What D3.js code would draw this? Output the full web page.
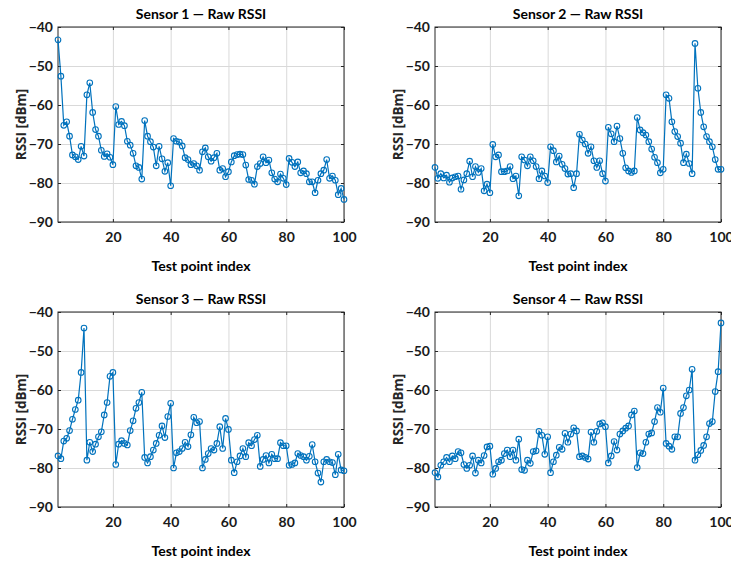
<!DOCTYPE html>
<html>
<head>
<meta charset="utf-8">
<script src="https://cdn.jsdelivr.net/npm/d3@7"></script>
<style>
  body { margin: 0; background: #fff; }
  svg { display: block; }
  .axis text { font-family: Lato, sans-serif; font-weight: 700; font-size: 14px; fill: #1a1a1a; }
  .axis line { stroke: #262626; }
  .axis .domain { display: none; }
  .grid line { stroke: #d9d9d9; }
  .grid .domain { display: none; }
  .title, .x-label { font-family: Lato, sans-serif; font-weight: 700; font-size: 14px; fill: #000; }
  .y-label { font-family: "Open Sans", sans-serif; font-weight: 700; font-size: 13.5px; fill: #262626; }
</style>
</head>
<body>
<svg id="chart"></svg>
<script>
// test point indices 1..100
const testPoints = d3.range(1, 101);

const sensor1 = [-43.3, -52.6, -65.2, -64.3, -68.0, -72.8, -73.3, -74.0, -70.6, -73.1,
  -57.4, -54.3, -61.9, -66.3, -68.0, -71.6, -73.2, -72.5, -73.4, -75.3,
  -60.4, -65.0, -64.2, -65.3, -69.3, -70.3, -72.4, -75.6, -76.0, -79.0,
  -64.0, -68.0, -69.4, -70.8, -75.6, -70.6, -73.8, -77.0, -74.8, -80.7,
  -68.6, -69.3, -69.5, -70.5, -73.5, -74.0, -75.3, -75.0, -75.6, -76.7,
  -72.0, -71.0, -73.3, -74.4, -73.5, -72.4, -76.7, -76.3, -78.4, -77.1,
  -74.6, -73.0, -72.7, -72.6, -72.7, -75.4, -79.1, -79.3, -80.3, -75.8,
  -75.0, -73.3, -74.8, -74.1, -77.4, -79.0, -79.7, -77.7, -78.8, -80.4,
  -73.7, -74.7, -75.8, -74.6, -77.4, -76.9, -77.6, -79.7, -79.7, -82.5,
  -79.3, -77.6, -76.7, -74.0, -78.8, -78.2, -79.3, -83.0, -81.4, -84.2];

const sensor2 = [-76.0, -78.8, -77.6, -78.7, -78.0, -79.8, -78.7, -78.4, -78.2, -81.6,
  -79.2, -77.6, -74.4, -78.4, -75.8, -77.3, -76.3, -82.0, -80.3, -82.5,
  -70.1, -73.3, -72.8, -77.1, -77.1, -76.9, -75.8, -78.9, -78.2, -83.3,
  -73.3, -74.1, -75.6, -73.3, -74.3, -75.8, -78.9, -76.9, -78.2, -79.9,
  -70.7, -71.7, -74.6, -73.1, -75.2, -76.3, -77.7, -77.6, -81.2, -77.6,
  -67.5, -69.0, -70.0, -72.4, -70.7, -74.3, -76.0, -74.3, -77.6, -79.5,
  -65.7, -67.4, -69.4, -65.4, -68.6, -72.4, -76.1, -76.9, -77.3, -76.9,
  -63.2, -66.4, -67.1, -67.7, -69.4, -71.3, -73.4, -74.8, -77.4, -76.5,
  -57.4, -58.3, -64.3, -66.8, -68.1, -69.8, -74.8, -72.6, -75.0, -77.6,
  -44.2, -55.7, -61.9, -65.6, -68.1, -69.4, -70.7, -74.0, -76.5, -76.5];

const sensor3 = [-76.9, -77.6, -73.1, -72.4, -70.4, -67.5, -65.0, -62.6, -55.5, -44.1,
  -78.0, -73.4, -75.8, -73.9, -72.0, -70.7, -66.4, -63.2, -56.5, -55.5,
  -79.1, -73.9, -73.0, -73.7, -74.1, -70.4, -67.9, -64.7, -63.2, -60.6,
  -77.3, -78.7, -77.1, -75.4, -73.7, -71.6, -69.2, -72.2, -66.8, -63.4,
  -80.0, -76.1, -75.8, -75.0, -73.4, -74.5, -71.5, -67.0, -68.4, -68.1,
  -80.0, -77.8, -76.3, -75.0, -75.4, -73.7, -69.4, -75.0, -67.3, -70.1,
  -78.0, -81.2, -78.4, -76.9, -75.0, -77.1, -73.5, -74.3, -72.7, -71.6,
  -79.6, -77.8, -76.8, -78.7, -76.5, -77.6, -77.6, -73.5, -74.3, -74.3,
  -79.3, -79.1, -78.7, -76.3, -76.8, -77.1, -78.0, -77.0, -74.0, -78.4,
  -81.3, -83.6, -78.4, -77.8, -78.4, -78.6, -81.7, -76.5, -80.5, -80.7];

const sensor4 = [-81.2, -82.3, -79.3, -78.4, -77.3, -78.4, -76.9, -77.6, -75.8, -76.1,
  -79.1, -80.1, -79.3, -76.9, -81.3, -78.0, -78.7, -76.8, -74.6, -74.4,
  -81.6, -80.1, -78.4, -78.0, -76.3, -75.4, -77.1, -75.4, -78.0, -72.6,
  -80.4, -80.6, -78.0, -78.8, -75.8, -75.6, -70.6, -71.6, -76.5, -72.0,
  -81.2, -78.4, -76.7, -74.7, -75.2, -71.1, -73.4, -71.3, -69.7, -70.5,
  -77.1, -76.9, -77.3, -77.7, -70.8, -73.4, -70.6, -68.7, -68.4, -69.4,
  -78.7, -76.9, -73.2, -75.4, -71.3, -70.5, -69.8, -69.2, -66.4, -65.4,
  -79.9, -76.1, -76.3, -73.4, -71.3, -71.0, -68.1, -64.5, -65.7, -59.5,
  -73.7, -74.4, -75.2, -72.0, -72.0, -66.0, -64.5, -61.5, -60.0, -54.7,
  -78.0, -76.6, -75.5, -74.2, -72.0, -68.6, -68.1, -60.4, -55.3, -42.8];

const panelTitles = ['Sensor 1 \u2014 Raw RSSI', 'Sensor 2 \u2014 Raw RSSI',
  'Sensor 3 \u2014 Raw RSSI', 'Sensor 4 \u2014 Raw RSSI'];
const xTicks = [20, 40, 60, 80, 100];
const yTicks = [-90, -80, -70, -60, -50, -40];
const xDomain = [1, 100];
const yDomain = [-90, -40];

class RawRssiPanel {

    constructor(_config, _data) {
        this.config = {
            parentElement: _config.parentElement,
            left: _config.left,
            top: _config.top,
            width: 286,
            height: 195,
            title: _config.title
        }
        this.data = _data;
        this.initVis();
    }

    initVis() {
        let vis = this;
        const w = vis.config.width, h = vis.config.height;

        vis.xScale = d3.scaleLinear().domain(xDomain).range([0, w]);
        vis.yScale = d3.scaleLinear().domain(yDomain).range([h, 0]);

        vis.chart = vis.config.parentElement.append('g')
            .attr('transform', `translate(${vis.config.left},${vis.config.top})`);

        // grid lines
        vis.chart.append('g')
            .attr('class', 'grid')
            .attr('transform', `translate(0,${h})`)
            .call(d3.axisBottom(vis.xScale).tickValues(xTicks).tickSize(-h).tickFormat(''));
        vis.chart.append('g')
            .attr('class', 'grid')
            .call(d3.axisLeft(vis.yScale).tickValues(yTicks).tickSize(-w).tickFormat(''));

        // box
        vis.chart.append('rect')
            .attr('width', w)
            .attr('height', h)
            .attr('fill', 'none')
            .attr('stroke', '#262626')
            .attr('stroke-width', 1);

        // inward ticks on all four sides, labels only bottom/left
        vis.chart.append('g')
            .attr('class', 'axis x-axis')
            .attr('transform', `translate(0,${h})`)
            .call(d3.axisBottom(vis.xScale).tickValues(xTicks).tickSizeInner(-3).tickSizeOuter(0).tickPadding(10));
        vis.chart.append('g')
            .attr('class', 'axis')
            .call(d3.axisTop(vis.xScale).tickValues(xTicks).tickSizeInner(-3).tickSizeOuter(0).tickFormat(''));
        vis.chart.append('g')
            .attr('class', 'axis y-axis')
            .call(d3.axisLeft(vis.yScale).tickValues(yTicks).tickSizeInner(-3).tickSizeOuter(0).tickPadding(5));
        vis.chart.append('g')
            .attr('class', 'axis')
            .attr('transform', `translate(${w},0)`)
            .call(d3.axisRight(vis.yScale).tickValues(yTicks).tickSizeInner(-3).tickSizeOuter(0).tickFormat(''));

        vis.chart.append('text')
            .attr('class', 'title')
            .attr('x', w / 2)
            .attr('y', -8)
            .attr('text-anchor', 'middle')
            .text(vis.config.title);

        vis.chart.append('text')
            .attr('class', 'x-label')
            .attr('x', w / 2)
            .attr('y', h + 49)
            .attr('text-anchor', 'middle')
            .text('Test point index');

        vis.chart.append('text')
            .attr('class', 'y-label')
            .attr('transform', `translate(-37,${h / 2}) rotate(-90)`)
            .attr('dy', '0.35em')
            .attr('text-anchor', 'middle')
            .text('RSSI [dBm]');

        vis.renderVis();
    }

    renderVis() {
        let vis = this;
        const points = testPoints.map((t, i) => ({ t: t, v: vis.data[i] }));

        const line = d3.line()
            .x(d => vis.xScale(d.t))
            .y(d => vis.yScale(d.v));

        vis.chart.append('path')
            .datum(points)
            .attr('fill', 'none')
            .attr('stroke', '#0072BD')
            .attr('stroke-width', 1.2)
            .attr('d', line);

        vis.chart.selectAll('.marker')
            .data(points)
            .join('circle')
            .attr('class', 'marker')
            .attr('cx', d => vis.xScale(d.t))
            .attr('cy', d => vis.yScale(d.v))
            .attr('r', 2.8)
            .attr('fill', 'none')
            .attr('stroke', '#0072BD')
            .attr('stroke-width', 1.1);
    }
}

const svg = d3.select('#chart')
    .attr('width', 731)
    .attr('height', 562);

const sensors = [sensor1, sensor2, sensor3, sensor4];
const panelLeft = [58, 435];
const panelTop = [27, 312];

sensors.forEach((s, i) => {
    new RawRssiPanel({
        parentElement: svg,
        left: panelLeft[i % 2],
        top: panelTop[Math.floor(i / 2)],
        title: panelTitles[i]
    }, s);
});
</script>
</body>
</html>
